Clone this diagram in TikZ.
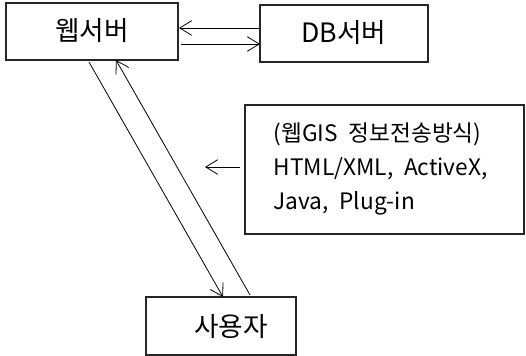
\documentclass[tikz,border=0pt]{standalone}
\usepackage{fontspec}
\setmainfont{Noto Sans CJK KR}
\usetikzlibrary{arrows.meta}
\newcommand{\infofont}{\fontsize{17}{25.5}\selectfont\spaceskip=8pt\relax}
\begin{document}
\begin{tikzpicture}[x=0.75pt,y=-0.75pt,
  box/.style={draw=black!85,line width=0.8pt,inner sep=0pt},
  conn/.style={line width=0.6pt,-{Straight Barb[length=9pt,width=11pt,line width=0.6pt]}},
  lbl/.style={font=\fontsize{20}{24}\selectfont},
  info/.style={font=\infofont,align=left,anchor=west}]
\useasboundingbox (0,0) rectangle (526,356);
\draw[box] (6,3) rectangle (178,60);
\node[lbl] (web) at (92,31) {웹서버};
\draw[box] (260,5) rectangle (428,62);
\node[lbl] (db) at (344,33) {DB서버};
\draw[box] (245,105) rectangle (524,234);
\node[info] (info) at (269,169) {(웹GIS 정보전송방식)\\HTML/XML, ActiveX,\\Java, Plug-in};
\draw[box] (146,297) rectangle (296,355);
\node[lbl] (user) at (231,327) {사용자};
\coordinate (dbL1) at (260,28);
\coordinate (webR1) at (179,28);
\coordinate (webR2) at (181,44);
\coordinate (dbL2) at (260,44);
\coordinate (webB1) at (89,62);
\coordinate (userT1) at (223,297);
\coordinate (userT2) at (250,295);
\coordinate (webB2) at (116,60);
\coordinate (infoL) at (240,167);
\coordinate (freeL) at (205,167);
\draw[conn] (dbL1) -- (webR1);
\draw[conn] (webR2) -- (dbL2);
\draw[conn] (webB1) -- (userT1);
\draw[conn] (userT2) -- (webB2);
\draw[conn] (infoL) -- (freeL);
\end{tikzpicture}
\end{document}
